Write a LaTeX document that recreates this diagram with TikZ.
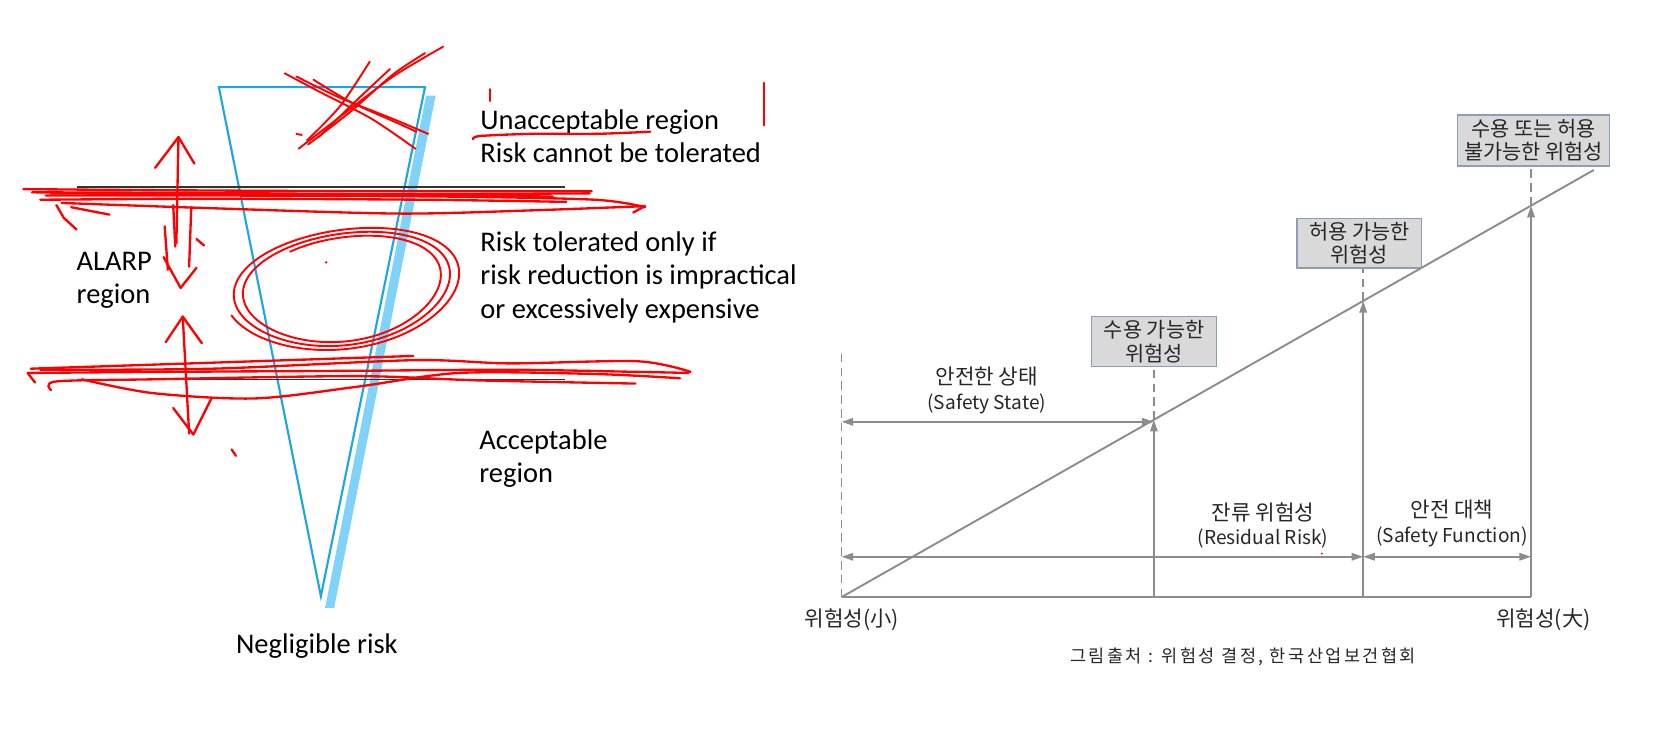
\documentclass[tikz,border=0pt]{standalone}
\usepackage{fontspec}
\setmainfont{Carlito}
\newfontfamily\kr{Noto Sans CJK KR}
\newfontfamily\krcap[LetterSpace=14]{Noto Sans CJK KR}
\usetikzlibrary{arrows.meta}
\definecolor{cyanline}{HTML}{1AA7E6}
\definecolor{lightband}{HTML}{80D2F6}
\definecolor{inkred}{HTML}{FF0000}
\definecolor{gray7}{HTML}{8C8C8C}
\definecolor{boxfill}{HTML}{D9D9D9}
\definecolor{boxedge}{HTML}{8C9DBA}
\definecolor{ktext}{HTML}{262626}
\newcommand\khan{\kr\fontsize{20}{23}\selectfont}
\newcommand\klat{\kr\fontsize{18}{23}\selectfont}
\begin{document}
\begin{tikzpicture}[x=1pt,y=-1pt,
  eng/.style={font=\fontsize{26.8}{31}\selectfont, inner sep=0pt, anchor=base west},
  redink/.style={draw=inkred, line width=2.2pt, line cap=round, line join=round},
  thinink/.style={draw=inkred, line width=1.8pt, line cap=round, line join=round},
  gline/.style={draw=gray7, line width=1.8pt},
  garrow/.style={gline, -{Triangle[length=11pt,width=7pt]}},
  gdarrow/.style={gline, {Triangle[length=11pt,width=7pt]}-{Triangle[length=11pt,width=7pt]}},
  gdash/.style={draw=gray7, line width=1.5pt, dash pattern=on 8pt off 5pt},
  kbox/.style={draw=boxedge, fill=boxfill, line width=1.5pt, minimum height=47pt, align=center, inner sep=0pt, text=ktext, font=\kr\fontsize{19.6}{22}\selectfont},
  klabel/.style={align=center, inner sep=0pt, text=ktext, font=\klat}
]
\fill[white] (0,0) rectangle (1568,710);
\useasboundingbox (0,0) rectangle (1568,710);

% ---------------- left: ALARP triangle ----------------
\fill[lightband] (401,90) -- (410,90) -- (314.5,572) -- (306,572) -- cycle;
\draw[cyanline, line width=2pt] (206,82) -- (400,82) -- (302,561) -- cycle;
\draw[black!80, line width=1.3pt] (72,176) -- (532,176);
\draw[black!80, line width=1.3pt] (72,357) -- (532,357);

\node[eng] (T1) at (452,122) {Unacceptable region};
\node[eng] (T2) at (452,153) {Risk cannot be tolerated};
\node[eng] (T3) at (452,237) {Risk tolerated only if};
\node[eng] (T4) at (452,268) {risk reduction is impractical};
\node[eng] (T5) at (452,299.5) {or excessively expensive};
\node[eng] (T6) at (72,254.5) {ALARP};
\node[eng] (T7) at (72,285.5) {region};
\node[eng] (T8) at (451,423.5) {Acceptable};
\node[eng] (T9) at (451,454) {region};
\node[eng] (T10) at (222,615) {Negligible risk};

% red annotations: cross
\draw[thinink] plot[smooth] coordinates {(268,69) (300,86) (350,112) (391,140)};
\draw[thinink] plot[smooth] coordinates {(279,72) (320,92) (370,112) (403,126)};
\draw[thinink] plot[smooth] coordinates {(295,75) (330,96) (370,114) (392,124)};
\draw[thinink] plot[smooth] coordinates {(281,140) (320,110) (370,72) (417,44)};
\draw[thinink] plot[smooth] coordinates {(290,136) (330,105) (370,70) (400,50)};
\draw[thinink] plot[smooth] coordinates {(289,132) (320,100) (348,58)};
\draw[thinink] plot[smooth] coordinates {(300,129) (335,95) (367,65)};
\draw[thinink] (279,126) -- (284,127);
\draw[redink] (461,84) -- (461,95);
\draw[redink] (719,78) -- (719,118);
\draw[redink] plot[smooth] coordinates {(445,131) (452,128) (500,126) (560,126) (612,124)};

% upper band
\draw[redink] plot[smooth] coordinates {(22,178) (150,179) (350,180) (557,180)};
\draw[redink] plot[smooth] coordinates {(38,188) (200,187) (400,188) (533,190)};
\draw[redink] plot[smooth] coordinates {(43,184) (200,184) (420,185) (560,188) (607,195)};
\draw[redink] plot[smooth] coordinates {(58,191) (200,196) (375,201) (500,198) (607,194)};
\draw[redink] plot[smooth] coordinates {(48,182) (300,183) (555,182)};
\draw[redink] plot[smooth] coordinates {(30,181) (250,182) (520,185)};
\draw[redink] (596,200) -- (607,194);
\draw[redink] (53,193) -- (60,205) -- (72,216);
\draw[redink] (67,195) -- (103,202);

% lower band
\draw[redink] plot[smooth] coordinates {(29,347) (150,343) (300,338) (389,335)};
\draw[redink] plot[smooth] coordinates {(26,351) (150,350) (330,349) (480,348) (600,350) (648,351)};
\draw[redink] plot[smooth] coordinates {(38,348) (200,347) (389,339) (480,342) (600,340) (650,350)};
\draw[redink] plot[smooth] coordinates {(48,367) (53,359) (144,357) (336,354) (450,358) (598,361)};
\draw[redink] plot[smooth] coordinates {(77,357) (144,370) (240,375) (336,364) (432,351) (560,352) (640,356)};
\draw[redink] (26,351) -- (33,360);

% hand-drawn arrows
\draw[redink] (146,158) -- (168,129) -- (183,154);
\draw[redink] (168,129) -- (166,229);
\draw[redink] (163,193) -- (165,232);
\draw[redink] (180,195) -- (178,251);
\draw[redink] (155,213) -- (158,254);
\draw[redink] (154,242) -- (170,271) -- (185,252);
\draw[redink] (156,322) -- (172,298) -- (190,323);
\draw[redink] (172,298) -- (178,408);
\draw[redink] (163,384) -- (182,409) -- (199,375);

% scribbled ellipse
\draw[thinink] plot[smooth, domain=0:1010, samples=160, variable=\t]
  ({326 + (112-0.024*\t)*cos(165-\t) + 4*sin(2*\t)},
   {271 + (58-0.01*\t)*sin(165-\t) - 0.1*(112-0.024*\t)*cos(165-\t)});
\draw[redink] (185,225) -- (192,231);
\draw[redink] (218,423) -- (222,429);
\fill[inkred] (307,247) circle (1.2);

% ---------------- right: risk diagram ----------------
\coordinate (O) at (792,562);
\coordinate (E) at (1500,160);
\coordinate (D0) at (792,333);
\coordinate (X1) at (1086,562);
\coordinate (X2) at (1283,562);
\coordinate (X3) at (1441,562);
\coordinate (P1) at (1086,395.1);
\coordinate (P2) at (1283,283.2);
\coordinate (P3) at (1441,193.5);
\coordinate (S0) at (792,397);
\coordinate (S1) at (1086,397);
\coordinate (R0) at (792,524);
\coordinate (R1) at (1283,524);
\coordinate (R2) at (1441,524);

\node[kbox, minimum width=117.5pt] (B1) at (1086.2,321.5) {수용 가능한\\위험성};
\node[kbox, minimum width=117pt] (B2) at (1279.3,229) {허용 가능한\\위험성};
\node[kbox, minimum width=143pt, minimum height=48pt] (B3) at (1443.3,132) {수용 또는 허용\\불가능한 위험성};

\draw[gline] (O) -- (X3);
\draw[gline] (O) -- (E);
\draw[gdash] (D0) -- (O);
\draw[garrow] (X1) -- (P1);
\draw[garrow] (X2) -- (P2);
\draw[garrow] (X3) -- (P3);
\draw[gdash] (P1) -- (P1 |- B1.south);
\draw[gdash] (P2) -- (P2 |- B2.south);
\draw[gdash] (P3) -- (P3 |- B3.south);
\draw[gdarrow] (S0) -- (S1);
\draw[gdarrow] (R0) -- (R1);
\draw[gdarrow] (R1) -- (R2);

\node[klabel] (L1) at (928.7,367.5) {{\khan 안전한 상태}\\{\klat (Safety State)}};
\node[klabel] (L2) at (1188.7,494.5) {{\khan 잔류 위험성}\\{\klat (Residual Risk)}};
\node[klabel] (L3) at (1366.6,492.5) {{\khan 안전 대책}\\{\klat (Safety Function)}};
\node[klabel, font=\khan] (A1) at (801.6,583.5) {위험성(小)};
\node[klabel, font=\khan] (A2) at (1452.6,583.5) {위험성(大)};
\node[klabel, font=\krcap\fontsize{16.5}{20}\selectfont] (C) at (1170,618) {그림출처 : 위험성 결정, 한국산업보건협회};
\fill[inkred] (1244,521) circle (1);
\end{tikzpicture}
\end{document}
